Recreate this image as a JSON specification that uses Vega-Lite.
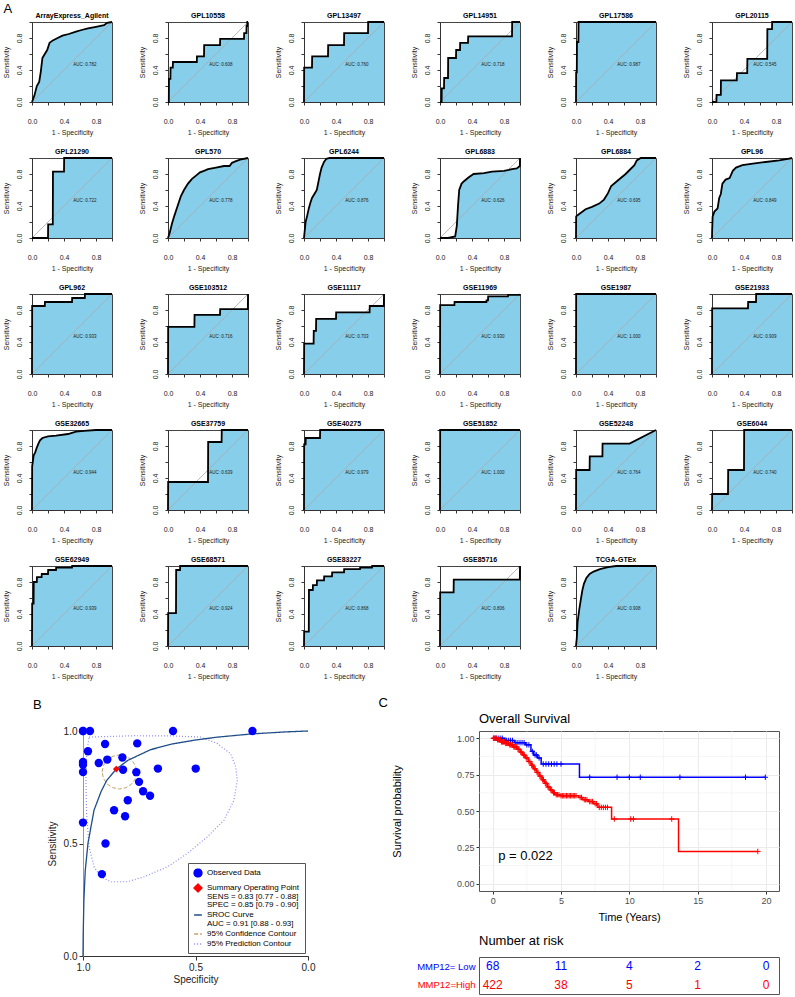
{
"$schema": "https://vega.github.io/schema/vega-lite/v6.json",
"background": "white",
"padding": {"left": 1, "top": 2, "right": 2, "bottom": 2},
"config": {"font": "Liberation Sans", "view": {"stroke": "#444"}},
"spacing": 17,
"resolve": {"scale": {"color": "independent", "fill": "independent", "stroke": "independent", "shape": "independent", "strokeDash": "independent"}, "legend": {"color": "independent", "fill": "independent", "stroke": "independent", "shape": "independent", "strokeDash": "independent"}},
"vconcat": [
{
"title": {"text": "A", "fontSize": 13, "fontWeight": "normal", "anchor": "start", "frame": "bounds", "offset": -4, "dx": 2},
"data": {"values": [
{"p":"ArrayExpress_Agilent","x":0,"y":0},{"p":"ArrayExpress_Agilent","x":0.03,"y":0.08},{"p":"ArrayExpress_Agilent","x":0.06,"y":0.2},{"p":"ArrayExpress_Agilent","x":0.09,"y":0.25},{"p":"ArrayExpress_Agilent","x":0.11,"y":0.38},{"p":"ArrayExpress_Agilent","x":0.13,"y":0.55},{"p":"ArrayExpress_Agilent","x":0.16,"y":0.6},{"p":"ArrayExpress_Agilent","x":0.19,"y":0.65},{"p":"ArrayExpress_Agilent","x":0.22,"y":0.74},{"p":"ArrayExpress_Agilent","x":0.26,"y":0.77},{"p":"ArrayExpress_Agilent","x":0.32,"y":0.8},{"p":"ArrayExpress_Agilent","x":0.38,"y":0.83},{"p":"ArrayExpress_Agilent","x":0.46,"y":0.85},{"p":"ArrayExpress_Agilent","x":0.55,"y":0.88},{"p":"ArrayExpress_Agilent","x":0.62,"y":0.9},{"p":"ArrayExpress_Agilent","x":0.7,"y":0.92},{"p":"ArrayExpress_Agilent","x":0.8,"y":0.94},{"p":"ArrayExpress_Agilent","x":0.9,"y":0.96},{"p":"ArrayExpress_Agilent","x":0.94,"y":0.99},{"p":"ArrayExpress_Agilent","x":1,"y":1},
{"p":"GPL10558","x":0,"y":0},{"p":"GPL10558","x":0.01,"y":0},{"p":"GPL10558","x":0.012,"y":0.29},{"p":"GPL10558","x":0.03,"y":0.29},{"p":"GPL10558","x":0.032,"y":0.43},{"p":"GPL10558","x":0.06,"y":0.43},{"p":"GPL10558","x":0.062,"y":0.5},{"p":"GPL10558","x":0.36,"y":0.5},{"p":"GPL10558","x":0.362,"y":0.57},{"p":"GPL10558","x":0.45,"y":0.57},{"p":"GPL10558","x":0.452,"y":0.71},{"p":"GPL10558","x":0.65,"y":0.71},{"p":"GPL10558","x":0.652,"y":0.79},{"p":"GPL10558","x":0.95,"y":0.79},{"p":"GPL10558","x":0.952,"y":0.86},{"p":"GPL10558","x":0.98,"y":0.86},{"p":"GPL10558","x":0.982,"y":0.95},{"p":"GPL10558","x":0.99,"y":0.95},{"p":"GPL10558","x":0.992,"y":1},{"p":"GPL10558","x":1,"y":1},
{"p":"GPL13497","x":0,"y":0},{"p":"GPL13497","x":0.002,"y":0.43},{"p":"GPL13497","x":0.1,"y":0.43},{"p":"GPL13497","x":0.102,"y":0.57},{"p":"GPL13497","x":0.3,"y":0.57},{"p":"GPL13497","x":0.302,"y":0.71},{"p":"GPL13497","x":0.5,"y":0.71},{"p":"GPL13497","x":0.502,"y":0.86},{"p":"GPL13497","x":0.8,"y":0.86},{"p":"GPL13497","x":0.802,"y":1},{"p":"GPL13497","x":1,"y":1},
{"p":"GPL14951","x":0,"y":0},{"p":"GPL14951","x":0.02,"y":0},{"p":"GPL14951","x":0.022,"y":0.17},{"p":"GPL14951","x":0.05,"y":0.17},{"p":"GPL14951","x":0.052,"y":0.3},{"p":"GPL14951","x":0.1,"y":0.3},{"p":"GPL14951","x":0.102,"y":0.55},{"p":"GPL14951","x":0.2,"y":0.55},{"p":"GPL14951","x":0.202,"y":0.65},{"p":"GPL14951","x":0.25,"y":0.65},{"p":"GPL14951","x":0.252,"y":0.74},{"p":"GPL14951","x":0.35,"y":0.74},{"p":"GPL14951","x":0.352,"y":0.82},{"p":"GPL14951","x":0.9,"y":0.82},{"p":"GPL14951","x":0.902,"y":1},{"p":"GPL14951","x":1,"y":1},
{"p":"GPL17586","x":0,"y":0},{"p":"GPL17586","x":0.002,"y":0.37},{"p":"GPL17586","x":0.01,"y":0.37},{"p":"GPL17586","x":0.012,"y":0.75},{"p":"GPL17586","x":0.03,"y":0.75},{"p":"GPL17586","x":0.032,"y":1},{"p":"GPL17586","x":1,"y":1},
{"p":"GPL20115","x":0,"y":0},{"p":"GPL20115","x":0.055,"y":0},{"p":"GPL20115","x":0.057,"y":0.09},{"p":"GPL20115","x":0.11,"y":0.09},{"p":"GPL20115","x":0.112,"y":0.27},{"p":"GPL20115","x":0.31,"y":0.27},{"p":"GPL20115","x":0.312,"y":0.36},{"p":"GPL20115","x":0.44,"y":0.36},{"p":"GPL20115","x":0.442,"y":0.54},{"p":"GPL20115","x":0.69,"y":0.54},{"p":"GPL20115","x":0.692,"y":0.91},{"p":"GPL20115","x":0.75,"y":0.91},{"p":"GPL20115","x":0.752,"y":1},{"p":"GPL20115","x":1,"y":1},
{"p":"GPL21290","x":0,"y":0},{"p":"GPL21290","x":0.2,"y":0},{"p":"GPL21290","x":0.202,"y":0.17},{"p":"GPL21290","x":0.26,"y":0.17},{"p":"GPL21290","x":0.262,"y":0.83},{"p":"GPL21290","x":0.4,"y":0.83},{"p":"GPL21290","x":0.402,"y":1},{"p":"GPL21290","x":1,"y":1},
{"p":"GPL570","x":0,"y":0},{"p":"GPL570","x":0.02,"y":0.06},{"p":"GPL570","x":0.05,"y":0.18},{"p":"GPL570","x":0.08,"y":0.28},{"p":"GPL570","x":0.12,"y":0.4},{"p":"GPL570","x":0.16,"y":0.52},{"p":"GPL570","x":0.2,"y":0.6},{"p":"GPL570","x":0.25,"y":0.68},{"p":"GPL570","x":0.3,"y":0.74},{"p":"GPL570","x":0.35,"y":0.78},{"p":"GPL570","x":0.4,"y":0.82},{"p":"GPL570","x":0.45,"y":0.84},{"p":"GPL570","x":0.5,"y":0.86},{"p":"GPL570","x":0.6,"y":0.88},{"p":"GPL570","x":0.7,"y":0.9},{"p":"GPL570","x":0.77,"y":0.9},{"p":"GPL570","x":0.8,"y":0.94},{"p":"GPL570","x":0.85,"y":0.96},{"p":"GPL570","x":0.9,"y":0.98},{"p":"GPL570","x":1,"y":1},
{"p":"GPL6244","x":0,"y":0},{"p":"GPL6244","x":0.01,"y":0.1},{"p":"GPL6244","x":0.02,"y":0.2},{"p":"GPL6244","x":0.04,"y":0.28},{"p":"GPL6244","x":0.06,"y":0.37},{"p":"GPL6244","x":0.08,"y":0.44},{"p":"GPL6244","x":0.1,"y":0.5},{"p":"GPL6244","x":0.13,"y":0.55},{"p":"GPL6244","x":0.16,"y":0.6},{"p":"GPL6244","x":0.18,"y":0.7},{"p":"GPL6244","x":0.2,"y":0.8},{"p":"GPL6244","x":0.22,"y":0.88},{"p":"GPL6244","x":0.25,"y":0.95},{"p":"GPL6244","x":0.28,"y":0.99},{"p":"GPL6244","x":0.32,"y":1},{"p":"GPL6244","x":1,"y":1},
{"p":"GPL6883","x":0,"y":0},{"p":"GPL6883","x":0.1,"y":0},{"p":"GPL6883","x":0.19,"y":0.02},{"p":"GPL6883","x":0.21,"y":0.15},{"p":"GPL6883","x":0.225,"y":0.4},{"p":"GPL6883","x":0.24,"y":0.6},{"p":"GPL6883","x":0.27,"y":0.68},{"p":"GPL6883","x":0.3,"y":0.71},{"p":"GPL6883","x":0.36,"y":0.76},{"p":"GPL6883","x":0.42,"y":0.8},{"p":"GPL6883","x":0.55,"y":0.81},{"p":"GPL6883","x":0.65,"y":0.83},{"p":"GPL6883","x":0.8,"y":0.84},{"p":"GPL6883","x":0.9,"y":0.86},{"p":"GPL6883","x":0.96,"y":0.87},{"p":"GPL6883","x":0.998,"y":0.9},{"p":"GPL6883","x":1,"y":1},
{"p":"GPL6884","x":0,"y":0},{"p":"GPL6884","x":0.002,"y":0.27},{"p":"GPL6884","x":0.04,"y":0.3},{"p":"GPL6884","x":0.12,"y":0.36},{"p":"GPL6884","x":0.2,"y":0.39},{"p":"GPL6884","x":0.29,"y":0.43},{"p":"GPL6884","x":0.35,"y":0.48},{"p":"GPL6884","x":0.4,"y":0.56},{"p":"GPL6884","x":0.44,"y":0.65},{"p":"GPL6884","x":0.5,"y":0.7},{"p":"GPL6884","x":0.56,"y":0.75},{"p":"GPL6884","x":0.62,"y":0.8},{"p":"GPL6884","x":0.67,"y":0.85},{"p":"GPL6884","x":0.73,"y":0.91},{"p":"GPL6884","x":0.76,"y":0.97},{"p":"GPL6884","x":0.81,"y":1},{"p":"GPL6884","x":1,"y":1},
{"p":"GPL96","x":0,"y":0},{"p":"GPL96","x":0.002,"y":0.1},{"p":"GPL96","x":0.008,"y":0.27},{"p":"GPL96","x":0.03,"y":0.33},{"p":"GPL96","x":0.07,"y":0.37},{"p":"GPL96","x":0.09,"y":0.5},{"p":"GPL96","x":0.11,"y":0.55},{"p":"GPL96","x":0.13,"y":0.68},{"p":"GPL96","x":0.17,"y":0.73},{"p":"GPL96","x":0.22,"y":0.75},{"p":"GPL96","x":0.26,"y":0.84},{"p":"GPL96","x":0.3,"y":0.88},{"p":"GPL96","x":0.38,"y":0.91},{"p":"GPL96","x":0.51,"y":0.93},{"p":"GPL96","x":0.67,"y":0.95},{"p":"GPL96","x":0.84,"y":0.97},{"p":"GPL96","x":0.95,"y":0.99},{"p":"GPL96","x":1,"y":1},
{"p":"GPL962","x":0,"y":0},{"p":"GPL962","x":0.002,"y":0.85},{"p":"GPL962","x":0.16,"y":0.85},{"p":"GPL962","x":0.162,"y":0.9},{"p":"GPL962","x":0.5,"y":0.9},{"p":"GPL962","x":0.502,"y":0.95},{"p":"GPL962","x":0.66,"y":0.95},{"p":"GPL962","x":0.662,"y":1},{"p":"GPL962","x":1,"y":1},
{"p":"GSE103512","x":0,"y":0},{"p":"GSE103512","x":0.002,"y":0.59},{"p":"GSE103512","x":0.33,"y":0.59},{"p":"GSE103512","x":0.332,"y":0.74},{"p":"GSE103512","x":0.65,"y":0.74},{"p":"GSE103512","x":0.652,"y":0.81},{"p":"GSE103512","x":0.998,"y":0.81},{"p":"GSE103512","x":1,"y":1},
{"p":"GSE11117","x":0,"y":0},{"p":"GSE11117","x":0.002,"y":0.38},{"p":"GSE11117","x":0.12,"y":0.38},{"p":"GSE11117","x":0.122,"y":0.54},{"p":"GSE11117","x":0.15,"y":0.54},{"p":"GSE11117","x":0.152,"y":0.69},{"p":"GSE11117","x":0.4,"y":0.69},{"p":"GSE11117","x":0.402,"y":0.77},{"p":"GSE11117","x":0.82,"y":0.77},{"p":"GSE11117","x":0.822,"y":0.85},{"p":"GSE11117","x":0.998,"y":0.85},{"p":"GSE11117","x":1,"y":1},
{"p":"GSE11969","x":0,"y":0},{"p":"GSE11969","x":0.002,"y":0.86},{"p":"GSE11969","x":0.18,"y":0.86},{"p":"GSE11969","x":0.182,"y":0.9},{"p":"GSE11969","x":0.58,"y":0.9},{"p":"GSE11969","x":0.582,"y":0.92},{"p":"GSE11969","x":0.6,"y":0.92},{"p":"GSE11969","x":0.602,"y":0.97},{"p":"GSE11969","x":0.85,"y":0.97},{"p":"GSE11969","x":0.852,"y":0.99},{"p":"GSE11969","x":0.998,"y":0.99},{"p":"GSE11969","x":1,"y":1},
{"p":"GSE1987","x":0,"y":0},{"p":"GSE1987","x":0.002,"y":1},{"p":"GSE1987","x":1,"y":1},
{"p":"GSE21933","x":0,"y":0},{"p":"GSE21933","x":0.002,"y":0.82},{"p":"GSE21933","x":0.45,"y":0.82},{"p":"GSE21933","x":0.452,"y":0.9},{"p":"GSE21933","x":0.55,"y":0.9},{"p":"GSE21933","x":0.552,"y":1},{"p":"GSE21933","x":1,"y":1},
{"p":"GSE32665","x":0,"y":0},{"p":"GSE32665","x":0.002,"y":0.55},{"p":"GSE32665","x":0.01,"y":0.6},{"p":"GSE32665","x":0.02,"y":0.68},{"p":"GSE32665","x":0.04,"y":0.72},{"p":"GSE32665","x":0.06,"y":0.78},{"p":"GSE32665","x":0.08,"y":0.83},{"p":"GSE32665","x":0.1,"y":0.87},{"p":"GSE32665","x":0.13,"y":0.9},{"p":"GSE32665","x":0.2,"y":0.92},{"p":"GSE32665","x":0.3,"y":0.93},{"p":"GSE32665","x":0.45,"y":0.95},{"p":"GSE32665","x":0.55,"y":0.98},{"p":"GSE32665","x":0.65,"y":0.99},{"p":"GSE32665","x":0.8,"y":1},{"p":"GSE32665","x":1,"y":1},
{"p":"GSE37759","x":0,"y":0},{"p":"GSE37759","x":0.002,"y":0.35},{"p":"GSE37759","x":0.5,"y":0.35},{"p":"GSE37759","x":0.502,"y":0.85},{"p":"GSE37759","x":0.67,"y":0.85},{"p":"GSE37759","x":0.672,"y":1},{"p":"GSE37759","x":1,"y":1},
{"p":"GSE40275","x":0,"y":0},{"p":"GSE40275","x":0.002,"y":0.82},{"p":"GSE40275","x":0.02,"y":0.82},{"p":"GSE40275","x":0.022,"y":0.9},{"p":"GSE40275","x":0.2,"y":0.9},{"p":"GSE40275","x":0.202,"y":1},{"p":"GSE40275","x":1,"y":1},
{"p":"GSE51852","x":0,"y":0},{"p":"GSE51852","x":0.002,"y":1},{"p":"GSE51852","x":1,"y":1},
{"p":"GSE52248","x":0,"y":0},{"p":"GSE52248","x":0.002,"y":0.5},{"p":"GSE52248","x":0.17,"y":0.5},{"p":"GSE52248","x":0.172,"y":0.67},{"p":"GSE52248","x":0.33,"y":0.67},{"p":"GSE52248","x":0.332,"y":0.83},{"p":"GSE52248","x":0.67,"y":0.83},{"p":"GSE52248","x":1,"y":1},
{"p":"GSE6044","x":0,"y":0},{"p":"GSE6044","x":0.002,"y":0.2},{"p":"GSE6044","x":0.2,"y":0.2},{"p":"GSE6044","x":0.202,"y":0.5},{"p":"GSE6044","x":0.4,"y":0.5},{"p":"GSE6044","x":0.402,"y":1},{"p":"GSE6044","x":1,"y":1},
{"p":"GSE62949","x":0,"y":0},{"p":"GSE62949","x":0.002,"y":0.53},{"p":"GSE62949","x":0.02,"y":0.53},{"p":"GSE62949","x":0.022,"y":0.8},{"p":"GSE62949","x":0.06,"y":0.8},{"p":"GSE62949","x":0.062,"y":0.86},{"p":"GSE62949","x":0.12,"y":0.86},{"p":"GSE62949","x":0.122,"y":0.9},{"p":"GSE62949","x":0.2,"y":0.9},{"p":"GSE62949","x":0.202,"y":0.95},{"p":"GSE62949","x":0.3,"y":0.95},{"p":"GSE62949","x":0.302,"y":0.98},{"p":"GSE62949","x":0.5,"y":0.98},{"p":"GSE62949","x":0.502,"y":1},{"p":"GSE62949","x":1,"y":1},
{"p":"GSE68571","x":0,"y":0},{"p":"GSE68571","x":0.002,"y":0.41},{"p":"GSE68571","x":0.1,"y":0.41},{"p":"GSE68571","x":0.102,"y":0.95},{"p":"GSE68571","x":0.15,"y":0.95},{"p":"GSE68571","x":0.152,"y":1},{"p":"GSE68571","x":1,"y":1},
{"p":"GSE83227","x":0,"y":0},{"p":"GSE83227","x":0.002,"y":0.18},{"p":"GSE83227","x":0.06,"y":0.18},{"p":"GSE83227","x":0.062,"y":0.7},{"p":"GSE83227","x":0.11,"y":0.7},{"p":"GSE83227","x":0.112,"y":0.76},{"p":"GSE83227","x":0.16,"y":0.76},{"p":"GSE83227","x":0.162,"y":0.82},{"p":"GSE83227","x":0.25,"y":0.82},{"p":"GSE83227","x":0.252,"y":0.87},{"p":"GSE83227","x":0.35,"y":0.87},{"p":"GSE83227","x":0.352,"y":0.92},{"p":"GSE83227","x":0.5,"y":0.92},{"p":"GSE83227","x":0.502,"y":0.96},{"p":"GSE83227","x":0.7,"y":0.96},{"p":"GSE83227","x":0.702,"y":0.98},{"p":"GSE83227","x":0.85,"y":0.98},{"p":"GSE83227","x":0.852,"y":1},{"p":"GSE83227","x":1,"y":1},
{"p":"GSE85716","x":0,"y":0},{"p":"GSE85716","x":0.002,"y":0.67},{"p":"GSE85716","x":0.17,"y":0.67},{"p":"GSE85716","x":0.172,"y":0.83},{"p":"GSE85716","x":0.998,"y":0.83},{"p":"GSE85716","x":1,"y":1},
{"p":"TCGA-GTEx","x":0,"y":0},{"p":"TCGA-GTEx","x":0.01,"y":0.1},{"p":"TCGA-GTEx","x":0.02,"y":0.3},{"p":"TCGA-GTEx","x":0.04,"y":0.45},{"p":"TCGA-GTEx","x":0.06,"y":0.58},{"p":"TCGA-GTEx","x":0.08,"y":0.7},{"p":"TCGA-GTEx","x":0.1,"y":0.78},{"p":"TCGA-GTEx","x":0.13,"y":0.85},{"p":"TCGA-GTEx","x":0.17,"y":0.9},{"p":"TCGA-GTEx","x":0.22,"y":0.93},{"p":"TCGA-GTEx","x":0.3,"y":0.96},{"p":"TCGA-GTEx","x":0.4,"y":0.985},{"p":"TCGA-GTEx","x":0.5,"y":1},{"p":"TCGA-GTEx","x":1,"y":1},
{"p":"ArrayExpress_Agilent","auc":"AUC: 0.782"},{"p":"GPL10558","auc":"AUC: 0.608"},{"p":"GPL13497","auc":"AUC: 0.760"},{"p":"GPL14951","auc":"AUC: 0.718"},{"p":"GPL17586","auc":"AUC: 0.987"},{"p":"GPL20115","auc":"AUC: 0.545"},
{"p":"GPL21290","auc":"AUC: 0.722"},{"p":"GPL570","auc":"AUC: 0.778"},{"p":"GPL6244","auc":"AUC: 0.876"},{"p":"GPL6883","auc":"AUC: 0.626"},{"p":"GPL6884","auc":"AUC: 0.695"},{"p":"GPL96","auc":"AUC: 0.849"},
{"p":"GPL962","auc":"AUC: 0.933"},{"p":"GSE103512","auc":"AUC: 0.716"},{"p":"GSE11117","auc":"AUC: 0.703"},{"p":"GSE11969","auc":"AUC: 0.930"},{"p":"GSE1987","auc":"AUC: 1.000"},{"p":"GSE21933","auc":"AUC: 0.909"},
{"p":"GSE32665","auc":"AUC: 0.944"},{"p":"GSE37759","auc":"AUC: 0.639"},{"p":"GSE40275","auc":"AUC: 0.979"},{"p":"GSE51852","auc":"AUC: 1.000"},{"p":"GSE52248","auc":"AUC: 0.764"},{"p":"GSE6044","auc":"AUC: 0.740"},
{"p":"GSE62949","auc":"AUC: 0.939"},{"p":"GSE68571","auc":"AUC: 0.924"},{"p":"GSE83227","auc":"AUC: 0.868"},{"p":"GSE85716","auc":"AUC: 0.806"},{"p":"TCGA-GTEx","auc":"AUC: 0.908"}
]},
"facet": {"field": "p", "type": "nominal",
  "sort": ["ArrayExpress_Agilent","GPL10558","GPL13497","GPL14951","GPL17586","GPL20115","GPL21290","GPL570","GPL6244","GPL6883","GPL6884","GPL96","GPL962","GSE103512","GSE11117","GSE11969","GSE1987","GSE21933","GSE32665","GSE37759","GSE40275","GSE51852","GSE52248","GSE6044","GSE62949","GSE68571","GSE83227","GSE85716","TCGA-GTEx"],
  "header": {"title": null, "labelFontWeight": "bold", "labelFontSize": 7, "labelPadding": -1, "labelFont": "Liberation Sans", "labelColor": "#000"}},
"columns": 6,
"spacing": {"row": 11, "column": 20},
"resolve": {"axis": {"x": "independent", "y": "independent"}},
"spec": {
  "width": 80, "height": 80,
  "layer": [
    {"transform": [{"filter": "isValid(datum.x)"}],
     "mark": {"type": "area", "color": "#87CEEB", "opacity": 1},
     "encoding": {
       "x": {"field": "x", "type": "quantitative", "scale": {"domain": [0,1], "nice": false, "zero": false},
             "axis": {"title": "1 - Specificity", "values": [0,0.2,0.4,0.6,0.8,1], "tickCount": 12, "labelExpr": "round(datum.value*10)%4==0 ? format(datum.value, '.1f') : ''", "grid": false, "tickSize": 3, "tickColor": "#333", "domainColor": "#333", "labelFontSize": 7, "labelColor": "#222", "labelPadding": 12, "labelFlush": false, "labelOverlap": false, "titleFontSize": 7, "titleFontWeight": "normal", "titlePadding": 4, "titleColor": "#222"}},
       "y": {"field": "y", "type": "quantitative", "stack": null, "scale": {"domain": [0,1], "nice": false, "zero": false},
             "axis": {"title": "Sensitivity", "values": [0,0.2,0.4,0.6,0.8,1], "tickCount": 12, "labelExpr": "round(datum.value*10)%4==0 ? format(datum.value, '.1f') : ''", "grid": false, "tickSize": 3, "tickColor": "#333", "domainColor": "#333", "labelFontSize": 7, "labelColor": "#222", "labelPadding": 7, "labelAngle": 270, "labelAlign": "center", "labelBaseline": "bottom", "labelFlush": false, "labelOverlap": false, "minExtent": 17, "maxExtent": 17, "titleFontSize": 7, "titleFontWeight": "normal", "titlePadding": 6, "titleColor": "#222"}}
     }},
    {"transform": [{"filter": "isValid(datum.auc)"}],
     "mark": {"type": "rule", "color": "#AAAAAA", "strokeWidth": 0.8},
     "encoding": {"x": {"datum": 0, "type": "quantitative"}, "y": {"datum": 0, "type": "quantitative"}, "x2": {"datum": 1}, "y2": {"datum": 1}}},
    {"transform": [{"filter": "isValid(datum.x)"}],
     "mark": {"type": "line", "color": "#000", "strokeWidth": 1.8},
     "encoding": {"x": {"field": "x", "type": "quantitative"}, "y": {"field": "y", "type": "quantitative"}}},
    {"transform": [{"filter": "isValid(datum.auc)"}],
     "mark": {"type": "text", "fontSize": 4.5, "color": "#222"},
     "encoding": {"x": {"datum": 0.66, "type": "quantitative"}, "y": {"datum": 0.46, "type": "quantitative"}, "text": {"field": "auc"}}}
  ]
}
},
{
"spacing": 63,
"resolve": {"scale": {"color": "independent", "fill": "independent", "stroke": "independent", "shape": "independent", "strokeDash": "independent"}, "legend": {"color": "independent", "fill": "independent", "stroke": "independent", "shape": "independent", "strokeDash": "independent"}},
"hconcat": [
 {"spacing": 0,
  "resolve": {"scale": {"fill": "independent", "stroke": "independent", "shape": "independent", "strokeDash": "independent"}, "legend": {"fill": "independent", "stroke": "independent", "shape": "independent", "strokeDash": "independent"}},
  "hconcat": [
   {"width": 1, "height": 10, "data": {"values": []}, "mark": "point", "encoding": {}, "view": {"stroke": null}},
   {"width": 225, "height": 225,
    "title": {"text": "B", "fontSize": 13, "fontWeight": "normal", "anchor": "start", "frame": "group", "dx": -50, "offset": 14},
    "view": {"stroke": null},
    "encoding": {
      "x": {"field": "spec", "type": "quantitative", "scale": {"domain": [0,1], "reverse": true, "nice": false}, "axis": {"title": "Specificity", "values": [0,0.5,1], "tickCount": 10, "format": ".1f", "grid": false, "labelFontSize": 10, "titleFontSize": 10, "titleFontWeight": "normal", "tickSize": 4, "domainColor": "#333", "tickColor": "#333", "labelColor": "#222", "titleColor": "#222", "labelFlush": false, "labelOverlap": false, "titlePadding": 2}},
      "y": {"field": "sens", "type": "quantitative", "scale": {"domain": [0,1], "nice": false}, "axis": {"title": "Sensitivity", "values": [0,0.5,1], "tickCount": 10, "format": ".1f", "grid": false, "labelFontSize": 10, "titleFontSize": 10, "titleFontWeight": "normal", "tickSize": 4, "domainColor": "#999", "tickColor": "#333", "labelColor": "#222", "titleColor": "#222", "labelFlush": false, "labelOverlap": false, "titlePadding": 6}}
    },
    "layer": [
     {"data": {"values": [
       {"series":"95% Prediction Contour","i":0,"spec":0.973,"sens":0.973},{"series":"95% Prediction Contour","i":1,"spec":0.773,"sens":0.979},{"series":"95% Prediction Contour","i":2,"spec":0.6,"sens":0.978},{"series":"95% Prediction Contour","i":3,"spec":0.477,"sens":0.973},{"series":"95% Prediction Contour","i":4,"spec":0.403,"sens":0.944},{"series":"95% Prediction Contour","i":5,"spec":0.344,"sens":0.899},{"series":"95% Prediction Contour","i":6,"spec":0.321,"sens":0.84},{"series":"95% Prediction Contour","i":7,"spec":0.314,"sens":0.781},{"series":"95% Prediction Contour","i":8,"spec":0.329,"sens":0.692},{"series":"95% Prediction Contour","i":9,"spec":0.373,"sens":0.604},{"series":"95% Prediction Contour","i":10,"spec":0.447,"sens":0.53},{"series":"95% Prediction Contour","i":11,"spec":0.536,"sens":0.456},{"series":"95% Prediction Contour","i":12,"spec":0.625,"sens":0.396},{"series":"95% Prediction Contour","i":13,"spec":0.729,"sens":0.352},{"series":"95% Prediction Contour","i":14,"spec":0.803,"sens":0.33},{"series":"95% Prediction Contour","i":15,"spec":0.877,"sens":0.33},{"series":"95% Prediction Contour","i":16,"spec":0.921,"sens":0.352},{"series":"95% Prediction Contour","i":17,"spec":0.951,"sens":0.396},{"series":"95% Prediction Contour","i":18,"spec":0.973,"sens":0.485},{"series":"95% Prediction Contour","i":19,"spec":0.984,"sens":0.633},{"series":"95% Prediction Contour","i":20,"spec":0.987,"sens":0.781},{"series":"95% Prediction Contour","i":21,"spec":0.984,"sens":0.899},{"series":"95% Prediction Contour","i":22,"spec":0.973,"sens":0.973}
      ]},
      "mark": {"type": "line", "strokeWidth": 1.2},
      "encoding": {"order": {"field": "i", "type": "quantitative"},
        "stroke": {"field": "series", "type": "nominal", "scale": {"domain": ["Observed Data","Summary Operating Point|SENS = 0.83 [0.77 - 0.88]|SPEC = 0.85 [0.79 - 0.90]","SROC Curve|AUC = 0.91 [0.88 - 0.93]","95% Confidence Contour","95% Prediction Contour"], "range": ["#0000FF","#FF0000","#1F4E89","#C2A36B","#8C8CF0"]},
          "legend": {"title": null, "orient": "bottom-right", "offset": 3, "labelExpr": "split(datum.label, '|')", "labelFontSize": 8, "labelLimit": 400, "symbolSize": 60, "symbolStrokeWidth": 1.5, "strokeColor": "#555", "fillColor": "white", "padding": 5, "rowPadding": 1, "encode": {"labels": {"update": {"lineHeight": {"value": 8.5}}}}}},
        "strokeDash": {"field": "series", "type": "nominal", "scale": {"domain": ["Observed Data","Summary Operating Point|SENS = 0.83 [0.77 - 0.88]|SPEC = 0.85 [0.79 - 0.90]","SROC Curve|AUC = 0.91 [0.88 - 0.93]","95% Confidence Contour","95% Prediction Contour"], "range": [[1,0],[1,0],[1,0],[4,2],[1,2]]},
          "legend": {"title": null, "orient": "bottom-right", "offset": 3, "labelExpr": "split(datum.label, '|')", "labelFontSize": 8, "labelLimit": 400, "symbolSize": 60, "symbolStrokeWidth": 1.5, "strokeColor": "#555", "fillColor": "white", "padding": 5, "rowPadding": 1, "encode": {"labels": {"update": {"lineHeight": {"value": 8.5}}}}}}}},
     {"data": {"values": [
       {"series":"95% Confidence Contour","i":0,"spec":0.915,"sens":0.818},{"series":"95% Confidence Contour","i":1,"spec":0.909,"sens":0.847},{"series":"95% Confidence Contour","i":2,"spec":0.892,"sens":0.872},{"series":"95% Confidence Contour","i":3,"spec":0.867,"sens":0.888},{"series":"95% Confidence Contour","i":4,"spec":0.838,"sens":0.894},{"series":"95% Confidence Contour","i":5,"spec":0.809,"sens":0.888},{"series":"95% Confidence Contour","i":6,"spec":0.784,"sens":0.872},{"series":"95% Confidence Contour","i":7,"spec":0.767,"sens":0.847},{"series":"95% Confidence Contour","i":8,"spec":0.761,"sens":0.818},{"series":"95% Confidence Contour","i":9,"spec":0.767,"sens":0.789},{"series":"95% Confidence Contour","i":10,"spec":0.784,"sens":0.764},{"series":"95% Confidence Contour","i":11,"spec":0.809,"sens":0.748},{"series":"95% Confidence Contour","i":12,"spec":0.838,"sens":0.742},{"series":"95% Confidence Contour","i":13,"spec":0.867,"sens":0.748},{"series":"95% Confidence Contour","i":14,"spec":0.892,"sens":0.764},{"series":"95% Confidence Contour","i":15,"spec":0.909,"sens":0.789},{"series":"95% Confidence Contour","i":16,"spec":0.915,"sens":0.818}
      ]},
      "mark": {"type": "line", "strokeWidth": 1},
      "encoding": {"order": {"field": "i", "type": "quantitative"},
        "stroke": {"field": "series", "type": "nominal"},
        "strokeDash": {"field": "series", "type": "nominal"}}},
     {"data": {"values": [
       {"series":"SROC Curve|AUC = 0.91 [0.88 - 0.93]","i":0,"spec":1.0,"sens":0.0},{"series":"SROC Curve|AUC = 0.91 [0.88 - 0.93]","i":1,"spec":0.999,"sens":0.1},{"series":"SROC Curve|AUC = 0.91 [0.88 - 0.93]","i":2,"spec":0.996,"sens":0.25},{"series":"SROC Curve|AUC = 0.91 [0.88 - 0.93]","i":3,"spec":0.99,"sens":0.38},{"series":"SROC Curve|AUC = 0.91 [0.88 - 0.93]","i":4,"spec":0.978,"sens":0.5},{"series":"SROC Curve|AUC = 0.91 [0.88 - 0.93]","i":5,"spec":0.951,"sens":0.648},{"series":"SROC Curve|AUC = 0.91 [0.88 - 0.93]","i":6,"spec":0.92,"sens":0.73},{"series":"SROC Curve|AUC = 0.91 [0.88 - 0.93]","i":7,"spec":0.895,"sens":0.78},{"series":"SROC Curve|AUC = 0.91 [0.88 - 0.93]","i":8,"spec":0.852,"sens":0.831},{"series":"SROC Curve|AUC = 0.91 [0.88 - 0.93]","i":9,"spec":0.8,"sens":0.87},{"series":"SROC Curve|AUC = 0.91 [0.88 - 0.93]","i":10,"spec":0.7,"sens":0.917},{"series":"SROC Curve|AUC = 0.91 [0.88 - 0.93]","i":11,"spec":0.6,"sens":0.943},{"series":"SROC Curve|AUC = 0.91 [0.88 - 0.93]","i":12,"spec":0.5,"sens":0.96},{"series":"SROC Curve|AUC = 0.91 [0.88 - 0.93]","i":13,"spec":0.4,"sens":0.973},{"series":"SROC Curve|AUC = 0.91 [0.88 - 0.93]","i":14,"spec":0.25,"sens":0.987},{"series":"SROC Curve|AUC = 0.91 [0.88 - 0.93]","i":15,"spec":0.1,"sens":0.996},{"series":"SROC Curve|AUC = 0.91 [0.88 - 0.93]","i":16,"spec":0.0,"sens":1.0}
      ]},
      "mark": {"type": "line", "strokeWidth": 1.3},
      "encoding": {"order": {"field": "i", "type": "quantitative"},
        "stroke": {"field": "series", "type": "nominal"},
        "strokeDash": {"field": "series", "type": "nominal"}}},
     {"data": {"values": [
       {"series":"Observed Data","spec":1.0,"sens":1.0},{"series":"Observed Data","spec":1.0,"sens":1.0},{"series":"Observed Data","spec":0.969,"sens":1.0},{"series":"Observed Data","spec":0.6,"sens":1.0},{"series":"Observed Data","spec":0.247,"sens":1.0},{"series":"Observed Data","spec":0.978,"sens":0.91},{"series":"Observed Data","spec":0.902,"sens":0.942},{"series":"Observed Data","spec":0.759,"sens":0.945},{"series":"Observed Data","spec":1.0,"sens":0.862},{"series":"Observed Data","spec":1.0,"sens":0.85},{"series":"Observed Data","spec":1.0,"sens":0.818},{"series":"Observed Data","spec":0.93,"sens":0.858},{"series":"Observed Data","spec":0.892,"sens":0.873},{"series":"Observed Data","spec":0.825,"sens":0.882},{"series":"Observed Data","spec":0.822,"sens":0.828},{"series":"Observed Data","spec":0.763,"sens":0.817},{"series":"Observed Data","spec":0.667,"sens":0.833},{"series":"Observed Data","spec":0.499,"sens":0.833},{"series":"Observed Data","spec":0.751,"sens":0.774},{"series":"Observed Data","spec":0.733,"sens":0.732},{"series":"Observed Data","spec":0.702,"sens":0.712},{"series":"Observed Data","spec":0.801,"sens":0.692},{"series":"Observed Data","spec":0.862,"sens":0.648},{"series":"Observed Data","spec":0.813,"sens":0.621},{"series":"Observed Data","spec":1.0,"sens":0.593},{"series":"Observed Data","spec":0.9,"sens":0.5},{"series":"Observed Data","spec":0.916,"sens":0.364}
      ]},
      "mark": {"type": "point", "filled": true, "size": 70, "opacity": 1},
      "encoding": {
        "fill": {"field": "series", "type": "nominal", "scale": {"domain": ["Observed Data","Summary Operating Point|SENS = 0.83 [0.77 - 0.88]|SPEC = 0.85 [0.79 - 0.90]","SROC Curve|AUC = 0.91 [0.88 - 0.93]","95% Confidence Contour","95% Prediction Contour"], "range": ["#0000FF","#FF0000","#1F4E89","#C2A36B","#8C8CF0"]},
          "legend": {"title": null, "orient": "bottom-right", "offset": 3, "labelExpr": "split(datum.label, '|')", "labelFontSize": 8, "labelLimit": 400, "symbolSize": 60, "symbolStrokeWidth": 1.5, "strokeColor": "#555", "fillColor": "white", "padding": 5, "rowPadding": 1, "encode": {"labels": {"update": {"lineHeight": {"value": 8.5}}}}}},
        "shape": {"field": "series", "type": "nominal", "scale": {"domain": ["Observed Data","Summary Operating Point|SENS = 0.83 [0.77 - 0.88]|SPEC = 0.85 [0.79 - 0.90]","SROC Curve|AUC = 0.91 [0.88 - 0.93]","95% Confidence Contour","95% Prediction Contour"], "range": ["circle","diamond","stroke","stroke","stroke"]},
          "legend": {"title": null, "orient": "bottom-right", "offset": 3, "labelExpr": "split(datum.label, '|')", "labelFontSize": 8, "labelLimit": 400, "symbolSize": 60, "symbolStrokeWidth": 1.5, "strokeColor": "#555", "fillColor": "white", "padding": 5, "rowPadding": 1, "encode": {"labels": {"update": {"lineHeight": {"value": 8.5}}}}}}}},
     {"data": {"values": [
       {"series":"Summary Operating Point|SENS = 0.83 [0.77 - 0.88]|SPEC = 0.85 [0.79 - 0.90]","spec":0.852,"sens":0.831}
      ]},
      "mark": {"type": "point", "filled": true, "size": 45, "opacity": 1},
      "encoding": {
        "fill": {"field": "series", "type": "nominal"},
        "shape": {"field": "series", "type": "nominal"}}}
    ]
   }
  ]
 },
 {
  "title": {"text": "C", "fontSize": 13, "fontWeight": "normal", "anchor": "start", "frame": "bounds", "dx": -12, "offset": 2},
  "bounds": "flush",
  "spacing": 66,
  "vconcat": [
   {"width": 300, "height": 160,
    "title": {"text": "Overall Survival", "fontSize": 13, "fontWeight": "normal", "anchor": "start", "frame": "group", "offset": 5},
    "view": {"stroke": "#555"},
    "layer": [
     {"data": {"values": [{}]}, "mark": {"type": "rule", "color": "#EDEDED", "strokeWidth": 0.5}, "encoding": {"x": {"datum": 2.5, "type": "quantitative"}}},
     {"data": {"values": [{}]}, "mark": {"type": "rule", "color": "#EDEDED", "strokeWidth": 0.5}, "encoding": {"x": {"datum": 7.5, "type": "quantitative"}}},
     {"data": {"values": [{}]}, "mark": {"type": "rule", "color": "#EDEDED", "strokeWidth": 0.5}, "encoding": {"x": {"datum": 12.5, "type": "quantitative"}}},
     {"data": {"values": [{}]}, "mark": {"type": "rule", "color": "#EDEDED", "strokeWidth": 0.5}, "encoding": {"x": {"datum": 17.5, "type": "quantitative"}}},
     {"data": {"values": [{}]}, "mark": {"type": "rule", "color": "#EDEDED", "strokeWidth": 0.5}, "encoding": {"y": {"datum": 0.125, "type": "quantitative"}}},
     {"data": {"values": [{}]}, "mark": {"type": "rule", "color": "#EDEDED", "strokeWidth": 0.5}, "encoding": {"y": {"datum": 0.375, "type": "quantitative"}}},
     {"data": {"values": [{}]}, "mark": {"type": "rule", "color": "#EDEDED", "strokeWidth": 0.5}, "encoding": {"y": {"datum": 0.625, "type": "quantitative"}}},
     {"data": {"values": [{}]}, "mark": {"type": "rule", "color": "#EDEDED", "strokeWidth": 0.5}, "encoding": {"y": {"datum": 0.875, "type": "quantitative"}}},
     {"data": {"values": [
       {"g":"MMP12= Low","t":0,"s":1.0},{"g":"MMP12= Low","t":0.9,"s":0.985},{"g":"MMP12= Low","t":1.6,"s":0.97},{"g":"MMP12= Low","t":2.4,"s":0.955},{"g":"MMP12= Low","t":2.8,"s":0.91},{"g":"MMP12= Low","t":3.0,"s":0.885},{"g":"MMP12= Low","t":3.3,"s":0.865},{"g":"MMP12= Low","t":3.55,"s":0.823},{"g":"MMP12= Low","t":6.35,"s":0.732},{"g":"MMP12= Low","t":19.95,"s":0.732},
       {"g":"MMP12=High","t":0,"s":1.0},{"g":"MMP12=High","t":0.3,"s":0.99},{"g":"MMP12=High","t":0.6,"s":0.975},{"g":"MMP12=High","t":0.9,"s":0.965},{"g":"MMP12=High","t":1.2,"s":0.955},{"g":"MMP12=High","t":1.5,"s":0.94},{"g":"MMP12=High","t":1.8,"s":0.925},{"g":"MMP12=High","t":2.0,"s":0.905},{"g":"MMP12=High","t":2.2,"s":0.885},{"g":"MMP12=High","t":2.4,"s":0.865},{"g":"MMP12=High","t":2.6,"s":0.84},{"g":"MMP12=High","t":2.8,"s":0.815},{"g":"MMP12=High","t":3.0,"s":0.79},{"g":"MMP12=High","t":3.2,"s":0.765},{"g":"MMP12=High","t":3.4,"s":0.74},{"g":"MMP12=High","t":3.6,"s":0.715},{"g":"MMP12=High","t":3.8,"s":0.69},{"g":"MMP12=High","t":4.0,"s":0.665},{"g":"MMP12=High","t":4.2,"s":0.645},{"g":"MMP12=High","t":4.4,"s":0.625},{"g":"MMP12=High","t":4.6,"s":0.612},{"g":"MMP12=High","t":4.9,"s":0.605},{"g":"MMP12=High","t":6.3,"s":0.593},{"g":"MMP12=High","t":6.6,"s":0.578},{"g":"MMP12=High","t":7.0,"s":0.565},{"g":"MMP12=High","t":7.4,"s":0.55},{"g":"MMP12=High","t":7.7,"s":0.525},{"g":"MMP12=High","t":8.7,"s":0.445},{"g":"MMP12=High","t":13.6,"s":0.222},{"g":"MMP12=High","t":19.4,"s":0.222}
      ]},
      "mark": {"type": "line", "interpolate": "step-after", "strokeWidth": 1.5},
      "encoding": {
        "x": {"field": "t", "type": "quantitative", "scale": {"domain": [-1, 20.95], "nice": false, "zero": false},
              "axis": {"title": "Time (Years)", "values": [0,5,10,15,20], "tickCount": 12, "format": "d", "grid": true, "gridColor": "#EBEBEB", "gridWidth": 1, "tickSize": 3, "tickColor": "#333", "domain": false, "labelColor": "#4D4D4D", "labelFontSize": 9, "labelPadding": 2, "labelFlush": false, "labelOverlap": false, "titleFontSize": 11, "titleFontWeight": "normal", "titlePadding": 6, "titleColor": "#000"}},
        "y": {"field": "s", "type": "quantitative", "scale": {"domain": [-0.05, 1.05], "nice": false, "zero": false},
              "axis": {"title": "Survival probability", "values": [0,0.25,0.5,0.75,1], "tickCount": 12, "format": ".2f", "grid": true, "gridColor": "#EBEBEB", "gridWidth": 1, "tickSize": 3, "tickColor": "#333", "domain": false, "labelColor": "#4D4D4D", "labelFontSize": 9, "labelPadding": 2, "labelOverlap": false, "labelFlush": false, "minExtent": 72, "maxExtent": 72, "titleFontSize": 11, "titleFontWeight": "normal", "titlePadding": 5, "titleColor": "#000"}},
        "color": {"field": "g", "type": "nominal", "scale": {"domain": ["MMP12= Low","MMP12=High"], "range": ["#0000FF","#FF0000"]}, "legend": null}
      }},
     {"data": {"values": [
       {"g":"MMP12= Low","t":0.1,"s":1.0},{"g":"MMP12= Low","t":0.25,"s":1.0},{"g":"MMP12= Low","t":0.4,"s":1.0},{"g":"MMP12= Low","t":0.55,"s":1.0},{"g":"MMP12= Low","t":0.7,"s":1.0},
       {"g":"MMP12= Low","t":1.0,"s":0.985},{"g":"MMP12= Low","t":1.15,"s":0.985},{"g":"MMP12= Low","t":1.3,"s":0.985},{"g":"MMP12= Low","t":1.45,"s":0.985},
       {"g":"MMP12= Low","t":1.7,"s":0.97},{"g":"MMP12= Low","t":1.85,"s":0.97},{"g":"MMP12= Low","t":2.0,"s":0.97},{"g":"MMP12= Low","t":2.15,"s":0.97},{"g":"MMP12= Low","t":2.3,"s":0.97},
       {"g":"MMP12= Low","t":2.5,"s":0.955},{"g":"MMP12= Low","t":2.65,"s":0.955},{"g":"MMP12= Low","t":2.9,"s":0.91},{"g":"MMP12= Low","t":3.1,"s":0.885},{"g":"MMP12= Low","t":3.2,"s":0.885},{"g":"MMP12= Low","t":3.4,"s":0.865},
       {"g":"MMP12= Low","t":3.7,"s":0.823},{"g":"MMP12= Low","t":3.9,"s":0.823},{"g":"MMP12= Low","t":4.1,"s":0.823},{"g":"MMP12= Low","t":4.3,"s":0.823},{"g":"MMP12= Low","t":4.5,"s":0.823},{"g":"MMP12= Low","t":4.7,"s":0.823},{"g":"MMP12= Low","t":5.0,"s":0.823},
       {"g":"MMP12= Low","t":7.1,"s":0.732},{"g":"MMP12= Low","t":9.1,"s":0.732},{"g":"MMP12= Low","t":10.0,"s":0.732},{"g":"MMP12= Low","t":10.8,"s":0.732},{"g":"MMP12= Low","t":13.7,"s":0.732},{"g":"MMP12= Low","t":18.5,"s":0.732},{"g":"MMP12= Low","t":19.95,"s":0.732},
       {"g":"MMP12=High","t":0.05,"s":1.0},{"g":"MMP12=High","t":0.12,"s":1.0},{"g":"MMP12=High","t":0.2,"s":1.0},{"g":"MMP12=High","t":0.27,"s":1.0},
       {"g":"MMP12=High","t":0.35,"s":0.99},{"g":"MMP12=High","t":0.42,"s":0.99},{"g":"MMP12=High","t":0.5,"s":0.99},{"g":"MMP12=High","t":0.56,"s":0.99},
       {"g":"MMP12=High","t":0.65,"s":0.975},{"g":"MMP12=High","t":0.72,"s":0.975},{"g":"MMP12=High","t":0.8,"s":0.975},{"g":"MMP12=High","t":0.86,"s":0.975},
       {"g":"MMP12=High","t":0.95,"s":0.965},{"g":"MMP12=High","t":1.02,"s":0.965},{"g":"MMP12=High","t":1.1,"s":0.965},{"g":"MMP12=High","t":1.16,"s":0.965},
       {"g":"MMP12=High","t":1.25,"s":0.955},{"g":"MMP12=High","t":1.32,"s":0.955},{"g":"MMP12=High","t":1.4,"s":0.955},{"g":"MMP12=High","t":1.46,"s":0.955},
       {"g":"MMP12=High","t":1.55,"s":0.94},{"g":"MMP12=High","t":1.62,"s":0.94},{"g":"MMP12=High","t":1.7,"s":0.94},{"g":"MMP12=High","t":1.76,"s":0.94},
       {"g":"MMP12=High","t":1.85,"s":0.925},{"g":"MMP12=High","t":1.92,"s":0.925},{"g":"MMP12=High","t":2.05,"s":0.905},{"g":"MMP12=High","t":2.12,"s":0.905},
       {"g":"MMP12=High","t":2.25,"s":0.885},{"g":"MMP12=High","t":2.32,"s":0.885},{"g":"MMP12=High","t":2.45,"s":0.865},{"g":"MMP12=High","t":2.52,"s":0.865},
       {"g":"MMP12=High","t":2.65,"s":0.84},{"g":"MMP12=High","t":2.72,"s":0.84},{"g":"MMP12=High","t":2.85,"s":0.815},{"g":"MMP12=High","t":2.92,"s":0.815},
       {"g":"MMP12=High","t":3.05,"s":0.79},{"g":"MMP12=High","t":3.12,"s":0.79},{"g":"MMP12=High","t":3.25,"s":0.765},{"g":"MMP12=High","t":3.32,"s":0.765},
       {"g":"MMP12=High","t":3.45,"s":0.74},{"g":"MMP12=High","t":3.52,"s":0.74},{"g":"MMP12=High","t":3.65,"s":0.715},{"g":"MMP12=High","t":3.72,"s":0.715},
       {"g":"MMP12=High","t":3.85,"s":0.69},{"g":"MMP12=High","t":3.92,"s":0.69},{"g":"MMP12=High","t":4.05,"s":0.665},{"g":"MMP12=High","t":4.12,"s":0.665},
       {"g":"MMP12=High","t":4.25,"s":0.645},{"g":"MMP12=High","t":4.32,"s":0.645},{"g":"MMP12=High","t":4.45,"s":0.625},{"g":"MMP12=High","t":4.52,"s":0.625},
       {"g":"MMP12=High","t":4.65,"s":0.612},{"g":"MMP12=High","t":4.75,"s":0.612},{"g":"MMP12=High","t":4.85,"s":0.612},
       {"g":"MMP12=High","t":5.0,"s":0.605},{"g":"MMP12=High","t":5.1,"s":0.605},{"g":"MMP12=High","t":5.2,"s":0.605},{"g":"MMP12=High","t":5.3,"s":0.605},{"g":"MMP12=High","t":5.4,"s":0.605},{"g":"MMP12=High","t":5.5,"s":0.605},{"g":"MMP12=High","t":5.6,"s":0.605},{"g":"MMP12=High","t":5.7,"s":0.605},{"g":"MMP12=High","t":5.8,"s":0.605},{"g":"MMP12=High","t":5.9,"s":0.605},{"g":"MMP12=High","t":6.0,"s":0.605},{"g":"MMP12=High","t":6.1,"s":0.605},
       {"g":"MMP12=High","t":6.4,"s":0.593},{"g":"MMP12=High","t":6.5,"s":0.593},{"g":"MMP12=High","t":6.7,"s":0.578},{"g":"MMP12=High","t":6.8,"s":0.578},{"g":"MMP12=High","t":6.9,"s":0.578},
       {"g":"MMP12=High","t":7.1,"s":0.565},{"g":"MMP12=High","t":7.2,"s":0.565},{"g":"MMP12=High","t":7.3,"s":0.565},{"g":"MMP12=High","t":7.5,"s":0.55},{"g":"MMP12=High","t":7.6,"s":0.55},
       {"g":"MMP12=High","t":7.8,"s":0.525},{"g":"MMP12=High","t":7.95,"s":0.525},{"g":"MMP12=High","t":8.1,"s":0.525},{"g":"MMP12=High","t":8.25,"s":0.525},{"g":"MMP12=High","t":8.4,"s":0.525},
       {"g":"MMP12=High","t":8.9,"s":0.445},{"g":"MMP12=High","t":10.1,"s":0.445},{"g":"MMP12=High","t":10.3,"s":0.445},{"g":"MMP12=High","t":13.1,"s":0.445},{"g":"MMP12=High","t":19.4,"s":0.222}
      ]},
      "mark": {"type": "point", "shape": "M-1,0H1M0,-1V1", "filled": false, "size": 30, "strokeWidth": 1, "opacity": 1},
      "encoding": {
        "x": {"field": "t", "type": "quantitative"},
        "y": {"field": "s", "type": "quantitative"},
        "color": {"field": "g", "type": "nominal", "legend": null}
      }},
     {"data": {"values": [{}]},
      "mark": {"type": "text", "align": "left", "baseline": "middle", "fontSize": 13, "color": "#000"},
      "encoding": {"x": {"datum": 0.4, "type": "quantitative"}, "y": {"datum": 0.19, "type": "quantitative"}, "text": {"value": "p = 0.022"}}}
    ]
   },
   {"width": 300, "height": 37,
    "title": {"text": "Number at risk", "fontSize": 13, "fontWeight": "normal", "anchor": "start", "frame": "group", "offset": 9},
    "view": {"stroke": "#555"},
    "data": {"values": [
      {"g":"MMP12= Low","t":0,"n":68},{"g":"MMP12= Low","t":5,"n":11},{"g":"MMP12= Low","t":10,"n":4},{"g":"MMP12= Low","t":15,"n":2},{"g":"MMP12= Low","t":20,"n":0},
      {"g":"MMP12=High","t":0,"n":422},{"g":"MMP12=High","t":5,"n":38},{"g":"MMP12=High","t":10,"n":5},{"g":"MMP12=High","t":15,"n":1},{"g":"MMP12=High","t":20,"n":0}
    ]},
    "mark": {"type": "text", "fontSize": 12},
    "encoding": {
      "x": {"field": "t", "type": "quantitative", "scale": {"domain": [-1, 20.95], "nice": false, "zero": false}, "axis": null},
      "y": {"field": "g", "type": "nominal", "sort": ["MMP12= Low","MMP12=High"], "scale": {"paddingInner": 0, "paddingOuter": 0},
            "axis": {"title": null, "ticks": false, "domain": false, "grid": false, "labelFontSize": 9.5, "labelPadding": 4,
                     "labelColor": {"condition": {"test": "datum.value == 'MMP12= Low'", "value": "#0000FF"}, "value": "#FF0000"}}},
      "color": {"field": "g", "type": "nominal", "scale": {"domain": ["MMP12= Low","MMP12=High"], "range": ["#0000FF","#FF0000"]}, "legend": null},
      "text": {"field": "n", "type": "quantitative"}
    }
   }
  ]
 }
]
}
]
}
